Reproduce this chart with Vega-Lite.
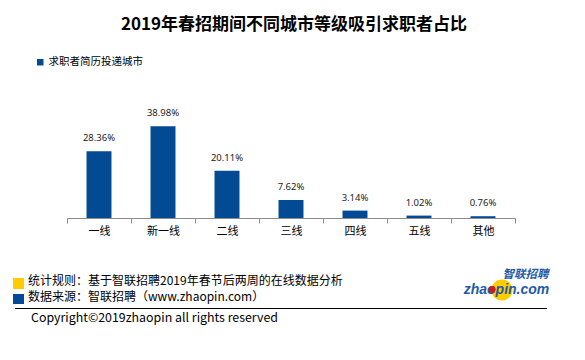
{
  "$schema": "https://vega.github.io/schema/vega-lite/v6.json",
  "width": 448,
  "height": 106,
  "autosize": {"type": "none"},
  "padding": {"left": 67, "top": 112, "right": 70, "bottom": 142},
  "background": "white",
  "config": {"view": {"stroke": null}, "font": "Noto Sans CJK SC"},
  "title": {
    "text": "2019年春招期间不同城市等级吸引求职者占比",
    "font": "Noto Sans CJK SC",
    "fontSize": 17,
    "fontWeight": "bold",
    "color": "#000000",
    "anchor": "middle",
    "offset": 23,
    "dx": 3
  },
  "layer": [
    {
      "data": {
        "values": [
          {"level": "一线", "share": 0.2836, "series": "求职者简历投递城市"},
          {"level": "新一线", "share": 0.3898, "series": "求职者简历投递城市"},
          {"level": "二线", "share": 0.2011, "series": "求职者简历投递城市"},
          {"level": "三线", "share": 0.0762, "series": "求职者简历投递城市"},
          {"level": "四线", "share": 0.0314, "series": "求职者简历投递城市"},
          {"level": "五线", "share": 0.0102, "series": "求职者简历投递城市"},
          {"level": "其他", "share": 0.0076, "series": "求职者简历投递城市"}
        ]
      },
      "encoding": {
        "x": {
          "field": "level",
          "type": "nominal",
          "sort": null,
          "scale": {"paddingInner": 0, "paddingOuter": 0},
          "axis": {
            "title": null,
            "labelAngle": 0,
            "domainColor": "#8c8c8c",
            "tickColor": "#8c8c8c",
            "tickSize": 5,
            "tickBand": "extent",
            "labelFontSize": 11,
            "labelColor": "#000000",
            "labelPadding": 2,
            "grid": false
          }
        },
        "y": {
          "field": "share",
          "type": "quantitative",
          "scale": {"domain": [0, 0.45]},
          "axis": null
        }
      },
      "layer": [
        {
          "mark": {"type": "bar", "width": {"band": 0.39}},
          "encoding": {
            "color": {
              "field": "series",
              "type": "nominal",
              "scale": {"range": ["#034A94"]},
              "legend": {
                "title": null,
                "orient": "none",
                "legendX": -32,
                "legendY": -55,
                "padding": 0,
                "symbolType": "square",
                "symbolSize": 42,
                "symbolStrokeWidth": 0,
                "labelFontSize": 10.5,
                "labelColor": "#000000",
                "labelOffset": 3
              }
            }
          }
        },
        {
          "mark": {"type": "text", "baseline": "bottom", "dy": -8, "fontSize": 9.5, "font": "Noto Sans", "color": "#222222"},
          "encoding": {
            "text": {"field": "share", "type": "quantitative", "format": ".2%"}
          }
        }
      ]
    },
    {
      "data": {"values": [{}]},
      "mark": {"type": "rect", "color": "#FFCC00"},
      "encoding": {"x": {"value": -54}, "x2": {"value": -43}, "y": {"value": 166}, "y2": {"value": 177}}
    },
    {
      "data": {"values": [{}]},
      "mark": {"type": "rect", "color": "#034A94"},
      "encoding": {"x": {"value": -54}, "x2": {"value": -43}, "y": {"value": 182}, "y2": {"value": 192}}
    },
    {
      "data": {"values": [{}]},
      "mark": {"type": "text", "align": "left", "baseline": "middle", "fontSize": 12, "color": "#000000"},
      "encoding": {"x": {"value": -39}, "y": {"value": 168.5}, "text": {"value": "统计规则：基于智联招聘2019年春节后两周的在线数据分析"}}
    },
    {
      "data": {"values": [{}]},
      "mark": {"type": "text", "align": "left", "baseline": "middle", "fontSize": 12, "color": "#000000"},
      "encoding": {"x": {"value": -39}, "y": {"value": 185}, "text": {"value": "数据来源：智联招聘（www.zhaopin.com）"}}
    },
    {
      "data": {"values": [{}]},
      "mark": {"type": "rule", "color": "#000000", "strokeWidth": 1.2},
      "encoding": {"x": {"value": -52}, "x2": {"value": 480}, "y": {"value": 196.5}}
    },
    {
      "data": {"values": [{}]},
      "mark": {"type": "text", "align": "left", "baseline": "middle", "fontSize": 12.4, "color": "#000000"},
      "encoding": {"x": {"value": -36}, "y": {"value": 206}, "text": {"value": "Copyright©2019zhaopin all rights reserved"}}
    },
    {
      "data": {"values": [{}]},
      "mark": {"type": "point", "shape": "circle", "filled": true, "color": "#FFCC00", "opacity": 1, "size": 450},
      "encoding": {"x": {"value": 435}, "y": {"value": 178}}
    },
    {
      "data": {"values": [{}]},
      "mark": {"type": "text", "align": "center", "baseline": "middle", "fontSize": 11.5, "fontWeight": "bold", "fontStyle": "italic", "color": "#1F5AA6"},
      "encoding": {"x": {"value": 458.5}, "y": {"value": 162.5}, "text": {"value": "智联招聘"}}
    },
    {
      "data": {"values": [{}]},
      "mark": {"type": "text", "align": "center", "baseline": "middle", "fontSize": 14, "fontWeight": "bold", "fontStyle": "italic", "font": "Liberation Sans", "color": "#1F5AA6"},
      "encoding": {"x": {"value": 439.5}, "y": {"value": 177.5}, "text": {"value": "zhaopin.com"}}
    },
    {
      "data": {"values": [{}]},
      "mark": {"type": "point", "shape": "circle", "filled": true, "color": "#C8201E", "opacity": 1, "size": 50},
      "encoding": {"x": {"value": 425}, "y": {"value": 177.5}}
    }
  ]
}
